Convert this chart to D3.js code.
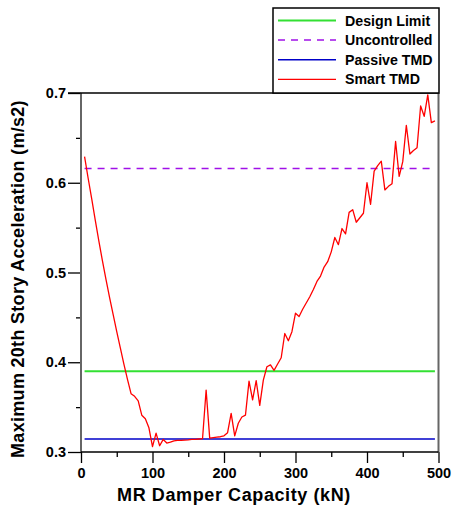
<!DOCTYPE html>
<html>
<head>
<meta charset="utf-8">
<script src="https://cdn.jsdelivr.net/npm/d3@7"></script>
<style>
  html, body { margin: 0; padding: 0; background: #fff; }
  svg { display: block; }
  text { font-family: "Liberation Sans", Arial, Helvetica, sans-serif; font-weight: bold; fill: #000; }
</style>
</head>
<body>
<svg id="chart" width="456" height="511"></svg>
<script>
// MR damper capacity (kN) sampled every 5 kN, and peak 20th-floor acceleration (m/s2)
const capacity = d3.range(5, 500, 5);
const smartTMD = [
  0.629, 0.605, 0.582, 0.558, 0.535, 0.513, 0.492, 0.472, 0.453, 0.434,
  0.416, 0.398, 0.381, 0.365, 0.362, 0.357, 0.341, 0.337, 0.327, 0.306,
  0.321, 0.307, 0.314, 0.310, 0.311, 0.3125, 0.313, 0.313, 0.3133, 0.3135,
  0.314, 0.314, 0.3145, 0.315, 0.369, 0.3155, 0.316, 0.3165, 0.317, 0.318,
  0.3215, 0.343, 0.318, 0.332, 0.339, 0.341, 0.379, 0.358, 0.3795, 0.352,
  0.380, 0.395, 0.397, 0.391, 0.398, 0.405, 0.432, 0.424, 0.434, 0.4546,
  0.451, 0.459, 0.466, 0.473, 0.481, 0.490, 0.496, 0.506, 0.512, 0.523,
  0.539, 0.531, 0.549, 0.543, 0.567, 0.570, 0.556, 0.561, 0.566, 0.600,
  0.576, 0.613, 0.619, 0.624, 0.592, 0.596, 0.599, 0.646, 0.607, 0.6235,
  0.664, 0.632, 0.636, 0.639, 0.6855, 0.674, 0.698, 0.667, 0.669
];

// Constant reference levels
const designLimit = 0.39;
const uncontrolled = 0.616;
const passiveTMD = 0.3145;
const refSpan = [5, 495];

const xTicks = [0, 100, 200, 300, 400, 500];
const xMinorTicks = [50, 150, 250, 350, 450];
const yTicks = [0.3, 0.4, 0.5, 0.6, 0.7];
const yMinorTicks = [0.35, 0.45, 0.55, 0.65];

const legendItems = [
  { label: "Design Limit", color: "#33e033", width: 1.8, dash: null },
  { label: "Uncontrolled", color: "#a010e8", width: 1.5, dash: "7,6" },
  { label: "Passive TMD", color: "#0000c8", width: 1.5, dash: null },
  { label: "Smart TMD", color: "#ff0000", width: 1.3, dash: null }
];

const svg = d3.select("#chart");
const plot = { left: 81, right: 438.5, top: 93, bottom: 452 };

const x = d3.scaleLinear().domain([0, 500]).range([plot.left, plot.right]);
const y = d3.scaleLinear().domain([0.3, 0.7]).range([plot.bottom, plot.top]);

// Axes: major ticks with labels, then short minor ticks
const xAxis = svg.append("g")
  .attr("transform", `translate(0,${plot.bottom})`)
  .call(d3.axisBottom(x).tickValues(xTicks).tickSize(11).tickPadding(5).tickFormat(d3.format("d")));
svg.append("g")
  .attr("transform", `translate(0,${plot.bottom})`)
  .call(d3.axisBottom(x).tickValues(xMinorTicks).tickSize(5).tickFormat(""));

const yAxis = svg.append("g")
  .attr("transform", `translate(${plot.left},0)`)
  .call(d3.axisLeft(y).tickValues(yTicks).tickSize(13).tickPadding(2).tickFormat(d3.format(".1f")));
svg.append("g")
  .attr("transform", `translate(${plot.left},0)`)
  .call(d3.axisLeft(y).tickValues(yMinorTicks).tickSize(5).tickFormat(""));

svg.selectAll(".domain").remove();
svg.selectAll(".tick line").attr("stroke", "#000").attr("stroke-width", 1.3);
xAxis.selectAll(".tick text").attr("font-size", 14.5).attr("font-weight", "bold");
yAxis.selectAll(".tick text").attr("font-size", 14.5).attr("font-weight", "bold");

// Reference lines
const refLine = d3.line().x(d => x(d[0])).y(d => y(d[1]));
function drawRef(level, item) {
  svg.append("path")
    .datum(refSpan.map(c => [c, level]))
    .attr("d", refLine)
    .attr("fill", "none")
    .attr("stroke", item.color)
    .attr("stroke-width", item.width)
    .attr("stroke-dasharray", item.dash);
}
drawRef(designLimit, legendItems[0]);
drawRef(uncontrolled, legendItems[1]);
drawRef(passiveTMD, legendItems[2]);

// Smart TMD response curve
svg.append("path")
  .datum(capacity.map((c, i) => [c, smartTMD[i]]))
  .attr("d", refLine)
  .attr("fill", "none")
  .attr("stroke", legendItems[3].color)
  .attr("stroke-width", legendItems[3].width)
  .attr("stroke-linejoin", "round");

// Plot frame
svg.append("line").attr("x1", plot.left).attr("x2", plot.left).attr("y1", plot.top).attr("y2", plot.bottom)
  .attr("stroke", "#666").attr("stroke-width", 2);
svg.append("line").attr("x1", plot.right).attr("x2", plot.right).attr("y1", plot.top).attr("y2", plot.bottom + 1)
  .attr("stroke", "#666").attr("stroke-width", 2);
svg.append("line").attr("x1", plot.left - 13).attr("x2", plot.right).attr("y1", plot.top).attr("y2", plot.top)
  .attr("stroke", "#000").attr("stroke-width", 1.5);
svg.append("line").attr("x1", plot.left).attr("x2", plot.right).attr("y1", plot.bottom).attr("y2", plot.bottom)
  .attr("stroke", "#000").attr("stroke-width", 1.5);

// Axis titles
svg.append("text")
  .attr("x", 234).attr("y", 501)
  .attr("text-anchor", "middle")
  .attr("font-size", 18)
  .attr("letter-spacing", 0.6)
  .text("MR Damper Capacity (kN)");
svg.append("text")
  .attr("transform", "translate(24,279) rotate(-90)")
  .attr("text-anchor", "middle")
  .attr("font-size", 18)
  .attr("letter-spacing", 0.3)
  .text("Maximum 20th Story Acceleration (m/s2)");

// Legend
const legend = svg.append("g");
legend.append("rect")
  .attr("x", 273).attr("y", 8).attr("width", 166).attr("height", 85)
  .attr("fill", "#fff").attr("stroke", "#000").attr("stroke-width", 1.5);
legendItems.forEach((item, i) => {
  const ly = 20.5 + i * 19.6;
  legend.append("line")
    .attr("x1", 278).attr("x2", 336).attr("y1", ly).attr("y2", ly)
    .attr("stroke", item.color).attr("stroke-width", item.width)
    .attr("stroke-dasharray", item.dash);
  legend.append("text")
    .attr("x", 345).attr("y", ly + 5)
    .attr("font-size", 14.2)
    .text(item.label);
});
</script>
</body>
</html>
